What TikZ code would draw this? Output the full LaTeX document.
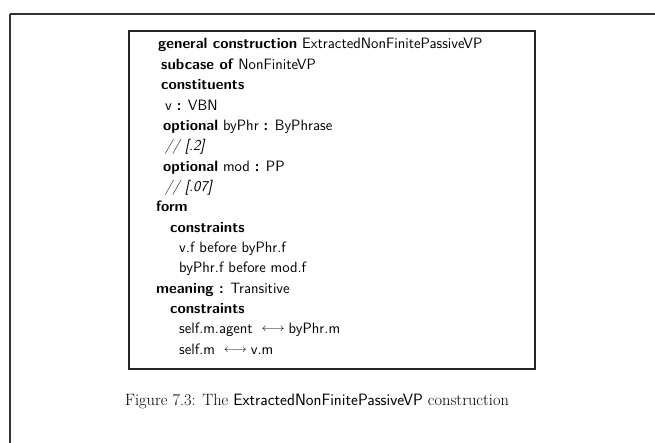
\documentclass[tikz,border=0pt]{standalone}
\usepackage{amsmath}
\usepackage{graphicx}
\usepackage{xcolor}
\usepackage{tikz}
\usetikzlibrary{calc}
\newcommand{\kw}[1]{\textbf{#1}}
\newcommand{\lra}{\hspace{4pt}\raisebox{0.3ex}{\resizebox{23pt}{4pt}{$\longleftrightarrow$}}\hspace{4pt}}

\begin{document}
\begin{tikzpicture}[x=1pt,y=-1pt,
    line/.style={anchor=base west, inner sep=0pt, font=\fontsize{15}{18}\selectfont\sffamily},
    caption/.style={anchor=base west, inner sep=0pt, font=\fontsize{16.4}{19}\selectfont}]
        \useasboundingbox (0,0) rectangle (655,443);
        % frames
        \draw[line width=1.4pt, black!80] (10,14) -- (665,14);
        \draw[line width=1.4pt, black!80] (10,14) -- (10,455);
        \draw[line width=1.1pt, black!85] (129,31) rectangle (535,369);

          % construction text
          \node[line] (l1) at (158,49) {\kw{general construction} ExtractedNonFinitePassiveVP};
          \node[line] (l2) at (161,69.4) {\kw{subcase of} NonFiniteVP};
          \node[line] (l3) at (161,89.7) {\kw{constituents}};
          \node[line] (l4) at (165,110.1) {v \kw{:} VBN};
          \node[line] (l5) at (163,130.4) {\kw{optional} byPhr \kw{:} ByPhrase};
          \node[line] (l6) at (165,150.8) {\textit{// [.2]}};
          \node[line] (l7) at (163,171.1) {\kw{optional} mod \kw{:} PP};
          \node[line] (l8) at (165,191.5) {\textit{// [.07]}};
          \node[line] (l9) at (156,211.8) {\kw{form}};
          \node[line] (l10) at (170,232.2) {\kw{constraints}};
          \node[line] (l11) at (179,252.5) {v.f before byPhr.f};
          \node[line] (l12) at (179,272.9) {byPhr.f before mod.f};
          \node[line] (l13) at (156,293.2) {\kw{meaning :} Transitive};
          \node[line] (l14) at (170,313.6) {\kw{constraints}};
          \node[line] (l15) at (179,333.9) {self.m.agent \lra byPhr.m};
          \node[line] (l16) at (179,354.3) {self.m \lra v.m};

          % caption
          \node[caption] (cap) at (125,405) {Figure 7.3: The \textsf{ExtractedNonFinitePassiveVP} construction};
     \end{tikzpicture}
\end{document}
